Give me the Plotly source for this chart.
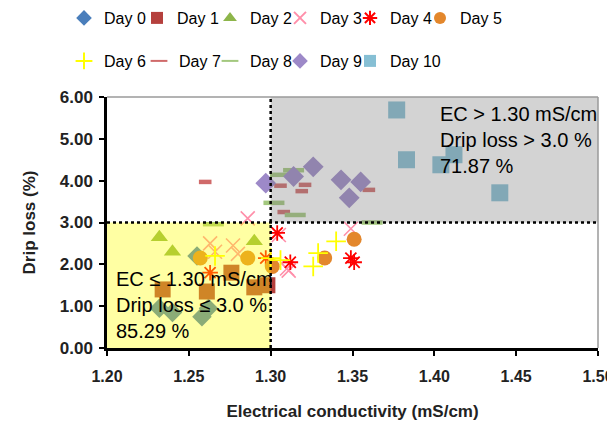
import plotly.graph_objects as go

# ---- data ----
day0_x = [1.255, 1.232, 1.240, 1.258, 1.262]
day0_y = [2.20, 0.95, 0.85, 0.75, 0.95]
day1_x = [1.234, 1.261, 1.276, 1.290, 1.298]
day1_y = [1.40, 1.35, 1.80, 1.45, 1.50]
day2_x = [1.232, 1.240, 1.290]
day2_y = [2.65, 2.30, 2.55]
day3_x = [1.286, 1.263, 1.277, 1.280, 1.266, 1.311, 1.305, 1.349, 1.310]
day3_y = [3.10, 2.50, 2.45, 2.25, 2.30, 1.85, 2.70, 2.85, 1.90]
day4_x = [1.304, 1.312, 1.349, 1.351, 1.297, 1.263]
day4_y = [2.75, 2.05, 2.15, 2.05, 2.15, 1.80]
day5_x = [1.257, 1.286, 1.301, 1.333, 1.351]
day5_y = [2.15, 2.15, 1.95, 2.15, 2.60]
day6_x = [1.266, 1.306, 1.300, 1.329, 1.326, 1.340]
day6_y = [2.20, 2.10, 2.15, 2.27, 1.95, 2.55]
day7_x = [1.260, 1.306, 1.321, 1.319, 1.360, 1.308]
day7_y = [3.97, 3.88, 3.90, 3.75, 3.78, 3.25]
day8_x = [1.306, 1.314, 1.302, 1.315, 1.362, 1.265]
day8_y = [4.14, 4.25, 3.47, 3.18, 3.00, 2.96]
day9_x = [1.297, 1.314, 1.326, 1.343, 1.355, 1.348]
day9_y = [3.94, 4.10, 4.33, 4.02, 3.97, 3.59]
day10_x = [1.377, 1.383, 1.404, 1.412, 1.440]
day10_y = [5.69, 4.50, 4.38, 4.62, 3.71]

names = ["Day 0", "Day 1", "Day 2", "Day 3", "Day 4", "Day 5",
         "Day 6", "Day 7", "Day 8", "Day 9", "Day 10"]
xs = [day0_x, day1_x, day2_x, day3_x, day4_x, day5_x,
      day6_x, day7_x, day8_x, day9_x, day10_x]
ys = [day0_y, day1_y, day2_y, day3_y, day4_y, day5_y,
      day6_y, day7_y, day8_y, day9_y, day10_y]

x_ticks = [1.20, 1.25, 1.30, 1.35, 1.40, 1.45, 1.50]
y_ticks = [0, 1, 2, 3, 4, 5, 6]
ec_cut = 1.30
dl_cut = 3.0

# ---- styles ----
styles = [
    dict(symbol="diamond", size=15, color="#4A7EBB"),
    dict(symbol="square", size=16, color="#B5403D"),
    dict(symbol="triangle-up", size=15, color="#8DB54A"),
    dict(symbol="x-thin", size=14, color="#FF8FAA", line=dict(width=1.6, color="#FF8FAA")),
    dict(symbol="asterisk", size=13, color="#FF0000", line=dict(width=1.8, color="#FF0000")),
    dict(symbol="circle", size=15, color="#E3872C"),
    dict(symbol="cross-thin", size=14, color="#FFFF00", line=dict(width=1.8, color="#FFFF00")),
    dict(symbol="line-ew", size=9, color="#D06A6A", line=dict(width=4.5, color="#D06A6A")),
    dict(symbol="line-ew", size=15, color="#A3C87E", line=dict(width=4.5, color="#A3C87E")),
    dict(symbol="diamond", size=16, color="#9D89C8"),
    dict(symbol="square", size=17, color="#86BFD4"),
]

# legend entry placement (container pixels): one legend per entry, two rows
leg_left = [56, 129, 202, 272, 342, 412, 56, 131, 202, 272, 342]
leg_row_y = [10, 10, 10, 10, 10, 10, 53, 53, 53, 53, 53]

FONT = "Liberation Sans, Arial, sans-serif"
W, H = 615, 432

fig = go.Figure()
legend_layout = {}
for i, (n, x, y, st) in enumerate(zip(names, xs, ys, styles)):
    key = "legend" if i == 0 else f"legend{i + 1}"
    fig.add_trace(go.Scatter(x=x, y=y, mode="markers", name=n, marker=st,
                             legend=key, showlegend=True))
    legend_layout[key] = dict(
        orientation="h", xanchor="left", yanchor="middle",
        xref="container", yref="container",
        x=leg_left[i] / W, y=1 - leg_row_y[i] / H,
        font=dict(family=FONT, size=16, color="black"),
        bgcolor="rgba(0,0,0,0)", itemwidth=30, itemsizing="constant",
        itemclick=False, itemdoubleclick=False,
    )

# region overlays (above markers, semi-transparent)
fig.add_shape(type="rect", xref="x", yref="y", x0=1.20, x1=ec_cut, y0=0, y1=dl_cut,
              fillcolor="rgba(255,255,0,0.36)", line=dict(width=0), layer="above")
fig.add_shape(type="rect", xref="x", yref="y", x0=ec_cut, x1=1.50, y0=dl_cut, y1=6,
              fillcolor="rgba(120,120,120,0.33)", line=dict(width=0), layer="above")
# dotted threshold lines
fig.add_shape(type="line", xref="x", yref="y", x0=ec_cut, x1=ec_cut, y0=0, y1=6,
              line=dict(color="black", width=2.5, dash="dot"), layer="above")
fig.add_shape(type="line", xref="x", yref="y", x0=1.20, x1=1.50, y0=dl_cut, y1=dl_cut,
              line=dict(color="black", width=2.5, dash="dot"), layer="above")
# frame top/right
fig.add_shape(type="line", xref="paper", yref="paper", x0=0, x1=1, y0=1, y1=1,
              line=dict(color="#9A9A9A", width=1.5), layer="above")
fig.add_shape(type="line", xref="paper", yref="paper", x0=1, x1=1, y0=0, y1=1,
              line=dict(color="#9A9A9A", width=1.5), layer="above")

fig.add_annotation(x=1.2043, y=1.96, xref="x", yref="y", xanchor="left", yanchor="top",
                   text="EC ≤ 1.30 mS/cm<br>Drip loss ≤ 3.0 %<br>85.29 %",
                   showarrow=False, align="left",
                   font=dict(family=FONT, size=20, color="black"))
fig.add_annotation(x=1.4023, y=5.91, xref="x", yref="y", xanchor="left", yanchor="top",
                   text="EC > 1.30 mS/cm<br>Drip loss > 3.0 %<br>71.87 %",
                   showarrow=False, align="left",
                   font=dict(family=FONT, size=20, color="black"))

fig.update_layout(
    width=W, height=H,
    showlegend=True,
    # the page body adds an 8px offset; margins compensate so the plot area
    # lands at x 107-598, y 97-348 in the window
    margin=dict(l=99, r=25, t=89, b=92, autoexpand=False),
    paper_bgcolor="white", plot_bgcolor="white",
    font=dict(family=FONT, color="black"),
    xaxis=dict(range=[1.20, 1.50], tickvals=x_ticks, tickformat=".2f", automargin=False,
               showgrid=False, zeroline=False, showline=True, linecolor="black", linewidth=2.5,
               ticks="outside", ticklen=5, tickwidth=2, tickcolor="black", ticklabelstandoff=7,
               tickfont=dict(family=FONT, size=16, color="#222", weight="bold"),
               title=dict(text="Electrical conductivity (mS/cm)", standoff=22,
                          font=dict(family=FONT, size=17, color="#222", weight="bold"))),
    yaxis=dict(range=[0, 6], tickvals=y_ticks, tickformat=".2f", automargin=False,
               showgrid=False, zeroline=False, showline=True, linecolor="black", linewidth=2.5,
               ticks="outside", ticklen=5, tickwidth=2, tickcolor="black", ticklabelstandoff=3,
               tickfont=dict(family=FONT, size=17, color="#222", weight="bold"),
               title=dict(text="Drip loss (%)", standoff=20,
                          font=dict(family=FONT, size=17, color="#222", weight="bold"))),
    **legend_layout,
)

fig.write_html("out.html")
